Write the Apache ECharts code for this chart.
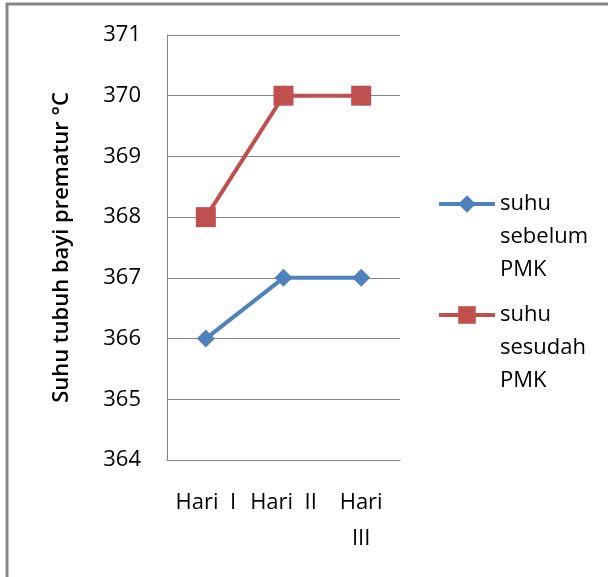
<!DOCTYPE html>
<html>
<head>
<meta charset="utf-8">
<script src="https://cdn.jsdelivr.net/npm/echarts@6/dist/echarts.min.js"></script>
<style>
  html, body { margin: 0; padding: 0; background: #fff; }
  #chart { width: 608px; height: 577px; }
</style>
</head>
<body>
<div id="chart"></div>
<script>
// Body temperature of premature infants before and after PMK, per day
const days = ['Hari  I', 'Hari  II', 'Hari III'];
const seriesNames = ['suhu sebelum PMK', 'suhu sesudah PMK'];
const suhuSebelum = [366, 367, 367];
const suhuSesudah = [368, 370, 370];
const yMin = 364;
const yMax = 371;
const yStep = 1;
const yTitle = 'Suhu tubuh bayi prematur °C';

const FONT = '"Open Sans", sans-serif';
const GRID_COLOR = '#868686';
const BLUE = '#4F81BD';
const RED = '#C0504D';

const LEGEND_LINE = 33;

// Legend text is vertically centred on its icon; two blank lines above the
// wrapped name keep the icon level with the first word.
function legendFor(name, iconCenterY) {
  return {
    data: [name],
    left: 437,
    top: iconCenterY - LEGEND_LINE * 2.5,
    padding: 0,
    orient: 'vertical',
    itemWidth: 56,
    itemHeight: 22,
    itemGap: 0,
    lineStyle: { width: 4 },
    formatter: n => '\n\n' + n.split(' ').join('\n'),
    textStyle: {
      fontFamily: FONT,
      fontSize: 22,
      color: '#000',
      lineHeight: LEGEND_LINE
    }
  };
}

const chart = echarts.init(document.getElementById('chart'), null, { renderer: 'canvas' });

chart.setOption({
  animation: false,
  backgroundColor: '#fff',
  graphic: [{
    type: 'rect',
    shape: { x: 7, y: 4, width: 700, height: 700 },
    style: { fill: 'none', stroke: GRID_COLOR, lineWidth: 3 },
    silent: true
  }],
  grid: { left: 167, right: 208, top: 35, bottom: 117 },
  legend: [
    legendFor(seriesNames[0], 204),
    legendFor(seriesNames[1], 315)
  ],
  xAxis: {
    type: 'category',
    data: days,
    boundaryGap: true,
    axisLine: { lineStyle: { color: GRID_COLOR, width: 1 } },
    axisTick: { show: false },
    axisLabel: {
      interval: 0,
      margin: 25,
      fontFamily: FONT,
      fontSize: 22,
      color: '#000',
      lineHeight: 36,
      formatter: v => v === 'Hari III' ? 'Hari\nIII' : v
    }
  },
  yAxis: {
    type: 'value',
    min: yMin,
    max: yMax,
    interval: yStep,
    name: yTitle,
    nameLocation: 'middle',
    nameGap: 94,
    nameRotate: 90,
    nameTextStyle: {
      fontFamily: FONT,
      fontSize: 22,
      fontWeight: 600,
      color: '#000'
    },
    axisLine: { show: true, lineStyle: { color: GRID_COLOR, width: 1 } },
    axisTick: { show: false },
    splitLine: { show: true, lineStyle: { color: GRID_COLOR, width: 1 } },
    axisLabel: {
      margin: 26,
      fontFamily: FONT,
      fontSize: 22,
      color: '#000'
    }
  },
  series: [
    {
      name: seriesNames[0],
      type: 'line',
      data: suhuSebelum,
      symbol: 'diamond',
      symbolSize: 18,
      lineStyle: { color: BLUE, width: 4 },
      itemStyle: { color: BLUE },
      z: 3
    },
    {
      name: seriesNames[1],
      type: 'line',
      data: suhuSesudah,
      symbol: 'rect',
      symbolSize: 20,
      lineStyle: { color: RED, width: 4 },
      itemStyle: { color: RED },
      z: 3
    }
  ]
});
</script>
</body>
</html>
